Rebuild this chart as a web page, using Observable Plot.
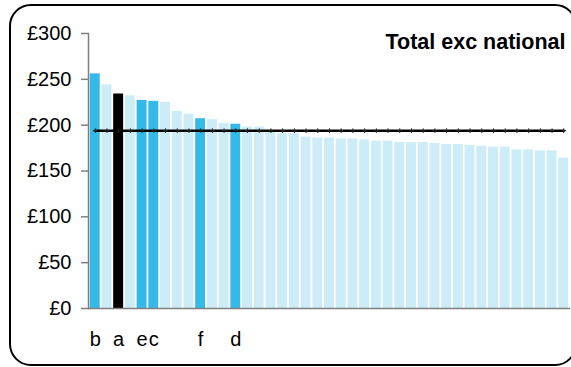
<!DOCTYPE html>
<html>
<head>
<meta charset="utf-8">
<script src="https://cdn.jsdelivr.net/npm/d3@7"></script>
<script src="https://cdn.jsdelivr.net/npm/@observablehq/plot@0.6"></script>
<style>
  html, body { margin: 0; padding: 0; background: #fff; }
  #wrap { position: relative; width: 571px; height: 367px; overflow: hidden; background: #fff; }
  #frame { position: absolute; left: 9px; top: 4px; width: 564px; height: 358px; border: 2px solid #000; border-radius: 22px; box-sizing: content-box; }
  #chart { position: absolute; left: 0; top: 0; }
</style>
</head>
<body>
<div id="wrap"><div id="frame"></div><div id="chart"></div></div>
<script>
// Bar labels (only a few are named), values (£) and group of each bar
const labels = ["b","","a","","e","c","","","","f","","","d","","","","","","","","","","","","","","","","","","","","","","","","","","","",""];
const values = [256,244,234,232,227,226,225,215,212,207,206,202,201,198,198,194,191,191,187,186,186,185,185,184,182.5,182.5,181,181,181,180,179,179,178,177,176,176,173,173,172,172,164];
const groups = ["highlight","other","selected","other","highlight","highlight","other","other","other","highlight","other","other","highlight","other","other","other","other","other","other","other","other","other","other","other","other","other","other","other","other","other","other","other","other","other","other","other","other","other","other","other","other"];
const nationalAverage = 194;
const yTicks = [0, 50, 100, 150, 200, 250, 300];
const title = "Total exc national";

const data = values.map((v, i) => ({i, label: labels[i], value: v, group: groups[i]}));
const idx = data.map(d => d.i);

const chart = Plot.plot({
  width: 571,
  height: 367,
  marginLeft: 88,
  marginRight: 1,
  marginTop: 33,
  marginBottom: 59,
  style: {fontFamily: "'Liberation Sans', Arial, sans-serif", fontSize: "20px", color: "#000", background: "transparent"},
  x: {type: "band", domain: idx, padding: 0.15, round: false},
  y: {domain: [0, 300]},
  color: {domain: ["other", "highlight", "selected"], range: ["#CCECF8", "#35B9E9", "#000000"]},
  marks: [
    Plot.barY(data, {x: "i", y: "value", fill: "group"}),
    Plot.lineY(idx, {x: d => d, y: () => nationalAverage, stroke: "#000", strokeWidth: 2.5}),
    Plot.dot(idx, {x: d => d, y: () => nationalAverage, symbol: "plus", r: 1.6, stroke: "#222", strokeWidth: 1}),
    Plot.ruleY([0], {stroke: "#7f7f7f", strokeWidth: 1.5}),
    Plot.frame({anchor: "left", stroke: "#7f7f7f", strokeWidth: 1.5}),
    Plot.axisY({ticks: yTicks, tickFormat: d => "£" + d, tickSize: 7, tickPadding: 10, stroke: "#7f7f7f", strokeWidth: 1.5, fontSize: 20, fill: "#000", label: null}),
    Plot.axisX({tickSize: 0, tickPadding: 23, tickFormat: i => labels[i], fontSize: 20, fill: "#000", label: null}),
    Plot.text([title], {frameAnchor: "top-right", dx: -5, dy: 0, lineAnchor: "top", fontWeight: "bold", fontSize: 21.5, fill: "#000"})
  ]
});
document.getElementById("chart").appendChild(chart);
</script>
</body>
</html>
